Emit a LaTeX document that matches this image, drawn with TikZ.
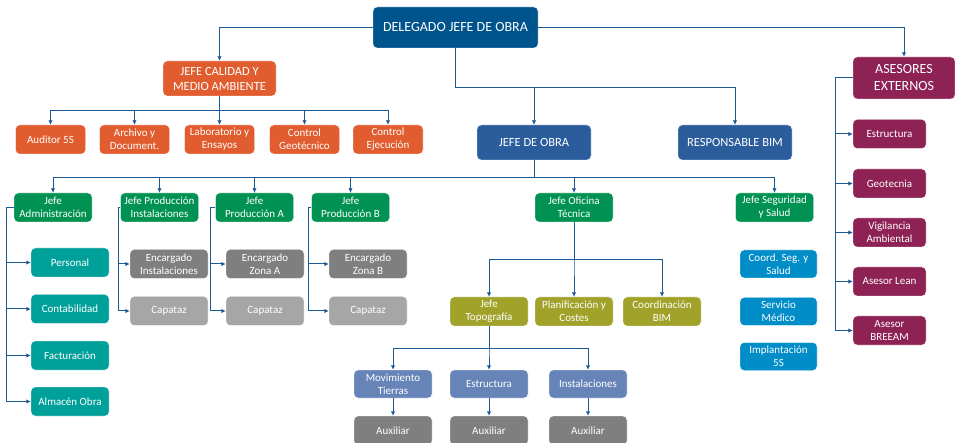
\documentclass[tikz,border=0pt]{standalone}
\usepackage{fontspec}
\setmainfont{Carlito}
\usetikzlibrary{arrows.meta, positioning}

\definecolor{delblue}{RGB}{0,84,142}
\definecolor{obrablue}{RGB}{43,93,157}
\definecolor{calorange}{RGB}{225,93,47}
\definecolor{jefegreen}{RGB}{0,146,82}
\definecolor{adminteal}{RGB}{0,160,154}
\definecolor{encgray}{RGB}{127,127,127}
\definecolor{capgray}{RGB}{166,166,166}
\definecolor{tecolive}{RGB}{160,162,42}
\definecolor{topslate}{RGB}{102,132,183}
\definecolor{segcyan}{RGB}{0,141,200}
\definecolor{asemaroon}{RGB}{142,34,84}
\definecolor{linkblue}{RGB}{28,90,150}

\begin{document}
\begin{tikzpicture}[x=1pt, y=-1pt,
    box/.style={rounded corners=4pt, draw=white, line width=0.4pt, text=white,
                align=center, inner sep=0pt, minimum width=78pt, minimum height=29pt,
                font=\fontsize{11}{13}\selectfont},
    head/.style={box, font=\fontsize{12.5}{15}\selectfont},
    arr/.style={draw=linkblue, line width=1pt, -{Latex[length=4.5pt, width=4.5pt]}}
    ]
    \useasboundingbox (0,0) rectangle (955,443);

    % top levels
    \node[head, fill=delblue, minimum width=165pt, minimum height=41pt,
          font=\fontsize{14}{17}\selectfont] (del) at (455.5,27.5) {DELEGADO JEFE DE OBRA};
    \node[head, fill=calorange, minimum width=113pt, minimum height=35pt] (cal) at (219.5,78.5) {JEFE CALIDAD Y\\MEDIO AMBIENTE};
    \node[head, fill=asemaroon, minimum width=102pt, minimum height=42pt,
          font=\fontsize{14}{17}\selectfont] (ase) at (904,78) {ASESORES\\EXTERNOS};
    \node[head, fill=obrablue, minimum width=114pt, minimum height=35pt] (obra) at (534,142.5) {JEFE DE OBRA};
    \node[head, fill=obrablue, minimum width=114pt, minimum height=35pt] (bim) at (735,142.5) {RESPONSABLE BIM};

    % calidad
    \node[box, fill=calorange, minimum width=70pt] (aud) at (50.5,139.5) {Auditor 5S};
    \node[box, fill=calorange, minimum width=70pt] (arch) at (134.5,139.5) {Archivo y\\Document.};
    \node[box, fill=calorange, minimum width=70pt] (lab) at (219.5,139.5) {Laboratorio y\\Ensayos};
    \node[box, fill=calorange, minimum width=70pt] (geot) at (304.5,139.5) {Control\\Geotécnico};
    \node[box, fill=calorange, minimum width=70pt] (eje) at (388,139.5) {Control\\Ejecución};

    % jefes
    \node[box, fill=jefegreen] (adm) at (53,207.5) {Jefe\\Administración};
    \node[box, fill=jefegreen] (pinst) at (159.5,207.5) {Jefe Producción\\Instalaciones};
    \node[box, fill=jefegreen] (pa) at (254.5,207.5) {Jefe\\Producción A};
    \node[box, fill=jefegreen] (pb) at (350.5,207.5) {Jefe\\Producción B};
    \node[box, fill=jefegreen] (ofi) at (574,207.5) {Jefe Oficina\\Técnica};
    \node[box, fill=jefegreen] (seg) at (774.5,207.5) {Jefe Seguridad\\y Salud};

    % administracion
    \node[box, fill=adminteal] (pers) at (70,262.5) {Personal};
    \node[box, fill=adminteal] (cont) at (70,309) {Contabilidad};
    \node[box, fill=adminteal] (fact) at (70,355.5) {Facturación};
    \node[box, fill=adminteal] (alm) at (70,401.5) {Almacén Obra};

    % produccion
    \node[box, fill=encgray] (encinst) at (169,264) {Encargado\\Instalaciones};
    \node[box, fill=capgray] (capinst) at (169,311) {Capataz};
    \node[box, fill=encgray] (encza) at (265,264) {Encargado\\Zona A};
    \node[box, fill=capgray] (capza) at (265,311) {Capataz};
    \node[box, fill=encgray] (enczb) at (368,264) {Encargado\\Zona B};
    \node[box, fill=capgray] (capzb) at (368,311) {Capataz};

    % oficina tecnica
    \node[box, fill=tecolive] (topo) at (489,311.5) {Jefe\\Topografía};
    \node[box, fill=tecolive] (plan) at (574,311.5) {Planificación y\\Costes};
    \node[box, fill=tecolive] (cbim) at (662,311.5) {Coordinación\\BIM};
    \node[box, fill=topslate, minimum height=28pt] (mov) at (393,384) {Movimiento\\Tierras};
    \node[box, fill=topslate, minimum height=28pt] (est) at (489,384) {Estructura};
    \node[box, fill=topslate, minimum height=28pt] (inst) at (588,384) {Instalaciones};
    \node[box, fill=encgray] (auxmov) at (393,430.5) {Auxiliar};
    \node[box, fill=encgray] (auxest) at (489,430.5) {Auxiliar};
    \node[box, fill=encgray] (auxinst) at (588,430.5) {Auxiliar};

    % seguridad
    \node[box, fill=segcyan, minimum width=77pt, minimum height=28pt] (coord) at (778.5,264) {Coord. Seg. y\\Salud};
    \node[box, fill=segcyan, minimum width=77pt, minimum height=28pt] (serv) at (778.5,311.5) {Servicio\\Médico};
    \node[box, fill=segcyan, minimum width=77pt, minimum height=28pt] (impl) at (778.5,356.5) {Implantación\\5S};

    % asesores
    \node[box, fill=asemaroon, minimum width=73pt] (aest) at (889.5,134) {Estructura};
    \node[box, fill=asemaroon, minimum width=73pt] (ageo) at (889.5,183.5) {Geotecnia};
    \node[box, fill=asemaroon, minimum width=73pt] (avig) at (889.5,232.5) {Vigilancia\\Ambiental};
    \node[box, fill=asemaroon, minimum width=73pt] (alean) at (889.5,281.5) {Asesor Lean};
    \node[box, fill=asemaroon, minimum width=73pt] (abre) at (889.5,330.5) {Asesor\\BREEAM};

    % connectors
    \draw[arr] (del.west) -| (cal.north);
    \draw[arr] (del.east) -| (ase.north);
    \draw[arr] (del.south) -- ++(0,39) -| (obra.north);
    \draw[arr] (del.south) -- ++(0,39) -| (bim.north);
    \foreach \n in {aud,arch,lab,geot,eje}
        \draw[arr] (cal.south) -- ++(0,14) -| (\n.north);
    \foreach \n in {adm,pinst,pa,pb,ofi,seg}
        \draw[arr] (obra.south) -- ++(0,17) -| (\n.north);
    \foreach \n in {pers,cont,fact,alm}
        \draw[arr] (adm.west) -- ++(-7,0) |- (\n.west);
    \foreach \n in {encinst,capinst}
        \draw[arr] (pinst.west) -- ++(-2,0) |- (\n.west);
    \foreach \n in {encza,capza}
        \draw[arr] (pa.west) -- ++(-5,0) |- (\n.west);
    \foreach \n in {enczb,capzb}
        \draw[arr] (pb.west) -- ++(-3,0) |- (\n.west);
    \foreach \n in {topo,plan,cbim}
        \draw[arr] (ofi.south) -- ++(0,37) -| (\n.north);
    \foreach \n in {mov,est,inst}
        \draw[arr] (topo.south) -- ++(0,22) -| (\n.north);
    \draw[arr] (mov) -- (auxmov);
    \draw[arr] (est) -- (auxest);
    \draw[arr] (inst) -- (auxinst);
    \foreach \n in {aest,ageo,avig,alean,abre}
        \draw[arr] (ase.west) -- ++(-17,0) |- (\n.west);
\end{tikzpicture}
\end{document}
